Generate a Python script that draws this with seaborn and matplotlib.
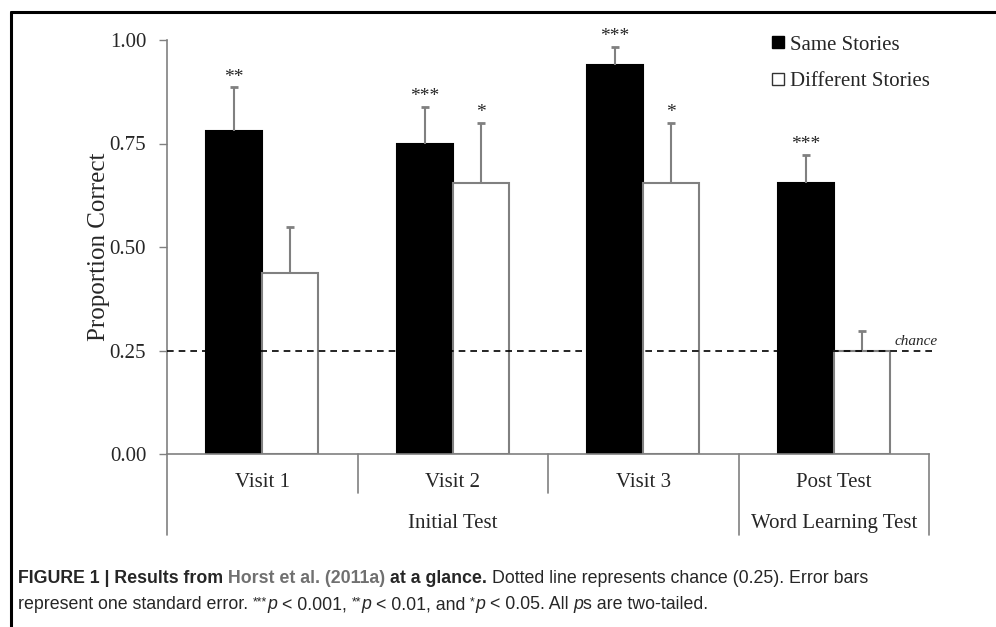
import matplotlib
matplotlib.use('Agg')
import matplotlib.pyplot as plt
import seaborn as sns
import pandas as pd
from matplotlib.lines import Line2D
from matplotlib import font_manager

# values
conditions = ['Visit 1', 'Visit 2', 'Visit 3', 'Post Test']
same_mean = [0.78, 0.75, 0.94, 0.655]
same_se = [0.106, 0.089, 0.043, 0.067]
diff_mean = [0.438, 0.655, 0.655, 0.25]
diff_se = [0.11, 0.145, 0.145, 0.047]
same_stars = ['**', '***', '***', '***']
diff_stars = ['', '*', '*', '']
tests = ['Initial Test', 'Word Learning Test']
yticks = [0.0, 0.25, 0.5, 0.75, 1.0]

df = pd.DataFrame({
    'Condition': conditions * 2,
    'Story': ['Same Stories'] * 4 + ['Different Stories'] * 4,
    'Proportion': same_mean + diff_mean,
})

sns.set_style('white')
plt.rcParams['font.family'] = ['Liberation Serif', 'DejaVu Serif']

W, H = 996, 627
fig = plt.figure(figsize=(W / 100, H / 100), dpi=100)
ax = fig.add_axes([167 / W, (H - 454) / H, 762 / W, 414 / H])

sns.barplot(data=df, x='Condition', y='Proportion', hue='Story',
            palette=['black', 'white'], width=0.59, errorbar=None,
            linewidth=1.5, legend=False, ax=ax)

grey = '#808080'
for bar in ax.containers[0]:
    bar.set_edgecolor('black')
for bar in ax.containers[1]:
    bar.set_edgecolor(grey)

# error bars (upper only) and significance stars
for cont, ses, stars in zip(list(ax.containers)[:2], [same_se, diff_se], [same_stars, diff_stars]):
    for bar, e, s in zip(cont, ses, stars):
        x = bar.get_x() + bar.get_width() / 2
        h = bar.get_height()
        eb = ax.errorbar(x, h, yerr=[[0], [e]], color=grey, elinewidth=1.5,
                         capsize=3, capthick=2, zorder=1)
        eb[1][0].set_visible(False)  # no cap at the bar top
        eb[1][1].set_color('#555555')
        if s:
            ax.text(x, h + e + 0.004, s, ha='center', va='bottom', fontsize=14)

ax.set_xlim(-0.5, 3.5)
ax.set_ylim(0, 1)
ax.set_yticks(yticks)
ax.set_yticklabels([f'{v:.2f}' for v in yticks], fontsize=15)
ax.tick_params(axis='y', direction='out', length=6, width=1, color=grey, pad=9, left=True)
ax.set_xticks([])
ax.set_xlabel('')
ax.set_ylabel('Proportion Correct', fontsize=18, labelpad=0)
for side in ['top', 'right']:
    ax.spines[side].set_visible(False)
for side in ['left', 'bottom']:
    ax.spines[side].set_color(grey)
    ax.spines[side].set_linewidth(1.2)

# chance line
ax.axhline(0.25, xmin=0, xmax=1.004, ls='--', dashes=(4, 3), color='black',
           lw=1.2, zorder=3, clip_on=False)
ax.text(3.43, 0.256, 'chance', style='italic', fontsize=11, ha='center', va='bottom')

# category table below the axis
xt = ax.get_xaxis_transform()
ax.plot([0, 0], [0, -0.196], transform=ax.transAxes, color=grey, lw=1.2, clip_on=False)
for xs, y_end in [(0.5, -0.094), (1.5, -0.094), (2.5, -0.196), (3.5, -0.196)]:
    ax.plot([xs, xs], [0, y_end], transform=xt, color=grey, lw=1.2, clip_on=False)
for i, c in enumerate(conditions):
    ax.text(i, -0.07, c, transform=xt, ha='center', va='center', fontsize=15)
for xc, t in zip([1, 3], tests):
    ax.text(xc, -0.167, t, transform=xt, ha='center', va='center', fontsize=15)

# legend
handles = [Line2D([], [], marker='s', ls='none', markersize=8,
                  markerfacecolor='black', markeredgecolor='black'),
           Line2D([], [], marker='s', ls='none', markersize=8,
                  markerfacecolor='white', markeredgecolor='#333333')]
ax.legend(handles, ['Same Stories', 'Different Stories'], loc='upper left',
          bbox_to_anchor=(772 / W, 1 - 35 / H), bbox_transform=fig.transFigure,
          frameon=False, borderpad=0, borderaxespad=0, fontsize=15,
          handlelength=0.6, handletextpad=0.25, labelspacing=0.8)

# frame around the figure panel
fig.add_artist(Line2D([11 / W, 11 / W], [0, 1 - 12 / H], color='black', lw=2.2,
                      transform=fig.transFigure))
fig.add_artist(Line2D([11 / W, 1], [1 - 12 / H, 1 - 12 / H], color='black', lw=2.2,
                      transform=fig.transFigure))

# caption
names = {f.name for f in font_manager.fontManager.ttflist}
cap_font = 'Liberation Sans Narrow' if 'Liberation Sans Narrow' in names else 'Liberation Sans'
cs = 12.8 if cap_font == 'Liberation Sans' else 13.5
renderer = fig.canvas.get_renderer()


def width_of(txt, **kw):
    t = fig.text(0, 0, txt, family=cap_font, fontsize=kw.pop('fontsize', cs), **kw)
    w = t.get_window_extent(renderer).width
    t.remove()
    return w


space = width_of('x x') - width_of('xx')


def put_line(x0, y0, parts):
    x = x0
    for txt, kw in parts:
        kw = dict(kw)
        size = kw.pop('fontsize', cs)
        dy = kw.pop('dy', 0)
        lead = len(txt) - len(txt.lstrip(' '))
        trail = len(txt) - len(txt.rstrip(' '))
        x += lead * space
        body = txt.strip(' ')
        t = fig.text(x / W, 1 - (y0 - dy) / H, body, family=cap_font, fontsize=size,
                     va='baseline', ha='left', **kw)
        x = t.get_window_extent(renderer).x1 + trail * space


bold = {'weight': 'bold'}
link = {'weight': 'bold', 'color': '#707070'}
reg = {}
ital = {'style': 'italic'}
sup = {'fontsize': cs * 0.7, 'dy': 4}
put_line(18, 583, [('FIGURE 1 | Results from ', bold), ('Horst et al. (2011a)', link),
                   (' at a glance.', bold),
                   (' Dotted line represents chance (0.25). Error bars', reg)])
put_line(18, 609, [('represent one standard error. ', reg), ('***', sup), ('p', ital),
                   (' < 0.001, ', reg), ('**', sup), ('p', ital), (' < 0.01, and ', reg),
                   ('*', sup), ('p', ital), (' < 0.05. All ', reg), ('p', ital),
                   ('s are two-tailed.', reg)])

fig.savefig('out.png', dpi=100)
